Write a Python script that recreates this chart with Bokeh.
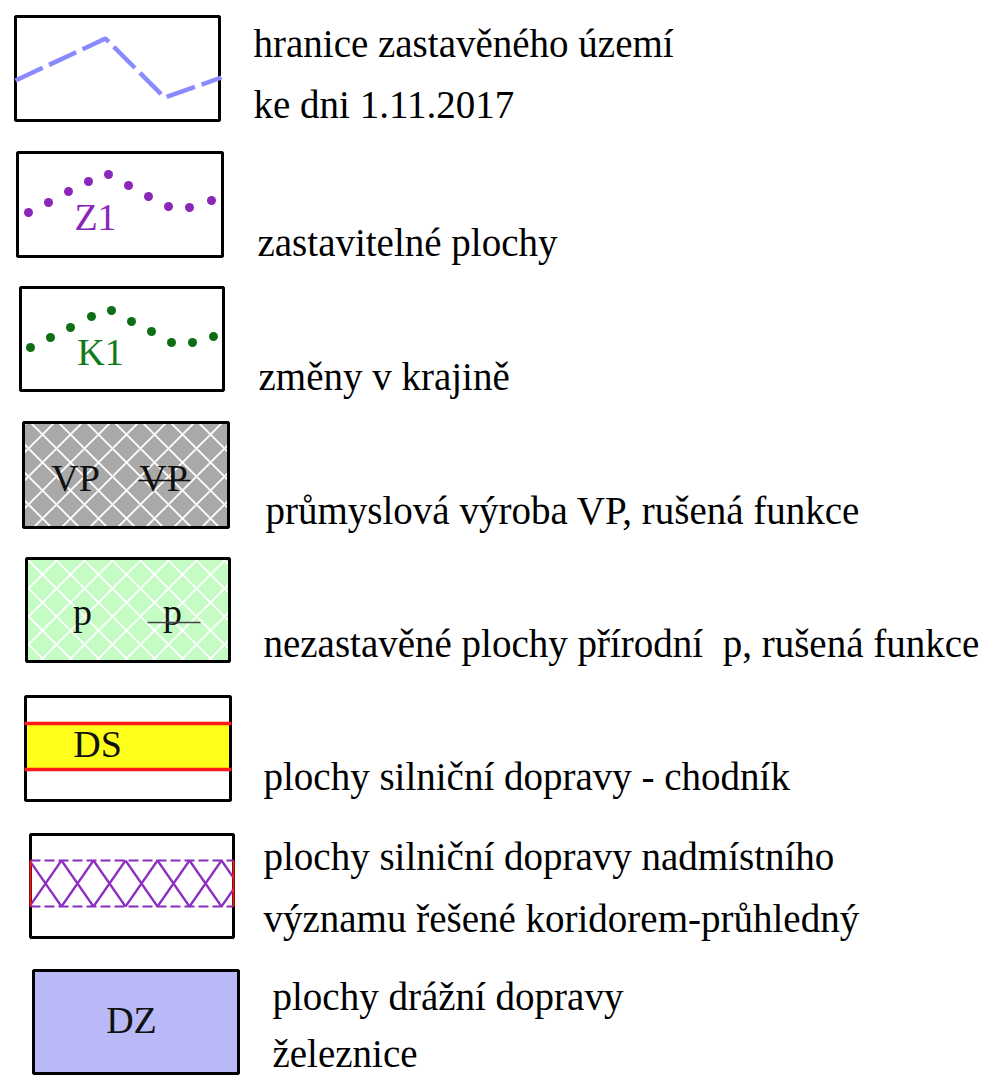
from bokeh.plotting import figure
from bokeh.models import Range1d, ColumnDataSource
from bokeh.embed import file_html
from bokeh.resources import INLINE
from bokeh.core.properties import value

# ---------------- data (legend content) ----------------
labels = [
    "hranice zastavěného území",
    "ke dni 1.11.2017",
    "zastavitelné plochy",
    "změny v krajině",
    "průmyslová výroba VP, rušená funkce",
    "nezastavěné plochy přírodní\u00a0 p, rušená funkce",
    "plochy silniční dopravy - chodník",
    "plochy silniční dopravy nadmístního",
    "významu řešené koridorem-průhledný",
    "plochy drážní dopravy",
    "železnice",
]
symbol_texts = ["Z1", "K1", "VP", "VP", "p", "p", "DS", "DZ"]
symbol_colors = ["#8a26b8", "#137a1c", "#111111", "#111111", "#111111", "#111111", "#111111", "#111111"]

box_fills = ["white", "white", "white", "#a9a9a9", "#c4fcc4", "white", "white", "#b9b9f7"]

# ---------------- layout (pixel positions, image coords) ----------------
label_x = [253, 253, 257, 258, 265, 263, 263, 263, 263, 272, 272]
label_y = [43, 104, 242, 376, 510, 643, 776, 856, 918, 996, 1053]

box_l = [15, 17, 20, 23, 26, 25, 30, 33]
box_t = [16, 152, 287, 422, 558, 696, 834, 970]
box_r = [219, 222, 223, 228, 229, 230, 233, 238]
box_b = [120, 256, 390, 527, 661, 800, 937, 1073]

sym_x = [95, 100, 75, 163, 82, 172, 97, 131]
sym_y = [216, 351, 477, 477, 611, 611, 743, 1019]

border_x = [15, 105, 164, 221]
border_y = [80, 38, 97, 77]
z_dots_x = [28, 48, 68, 88, 108, 128, 148, 168, 189, 211]
z_dots_y = [212, 202, 191, 181, 174, 185, 196, 206, 207, 200]
k_dots_x = [30, 50, 70, 91, 111, 131, 151, 171, 192, 213]
k_dots_y = [347, 337, 327, 316, 310, 321, 331, 342, 342, 336]

FONT = value("Liberation Serif")

W, H = 982, 1075
p = figure(width=W, height=H, x_range=Range1d(0, W), y_range=Range1d(H, 0),
           output_backend="svg", toolbar_location=None, min_border=0)
p.axis.visible = False
p.grid.visible = False
p.outline_line_color = None
p.background_fill_color = "white"
p.border_fill_color = "white"

# box fills
p.quad(left=box_l, right=box_r, top=box_t, bottom=box_b, fill_color=box_fills, line_color=None)
# white cross-hatching on VP and p swatches
for i in (3, 4):
    p.quad(left=[box_l[i]], right=[box_r[i]], top=[box_t[i]], bottom=[box_b[i]],
           fill_color=None, line_color=None, hatch_pattern="diagonal_cross",
           hatch_color="white", hatch_weight=1.8, hatch_scale=28)
# DS band
ds_top, ds_bot = 723, 769
p.quad(left=[box_l[5]], right=[box_r[5]], top=[ds_top], bottom=[ds_bot], fill_color="#ffff1a", line_color=None)
# box borders
p.quad(left=box_l, right=box_r, top=box_t, bottom=box_b, fill_color=None, line_color="black", line_width=3)
p.multi_line(xs=[[box_l[5] - 1, box_r[5] + 1], [box_l[5] - 1, box_r[5] + 1]], ys=[[ds_top, ds_top], [ds_bot, ds_bot]],
             line_color="#ff1a1a", line_width=3.5)

# box 1: dashed boundary line
p.line(border_x, border_y, line_color="#8a8aff", line_width=4.5, line_dash="30 7")

# dotted boundaries
p.scatter(z_dots_x, z_dots_y, size=9, fill_color="#8a26b8", line_color=None)
p.scatter(k_dots_x, k_dots_y, size=9, fill_color="#0e6e16", line_color=None)

# corridor band with crossing lines
bt, bb = 860, 906
x0, x1 = box_l[6], box_r[6]
period = 32
start = 29
xs, ys = [], []


def clip_seg(ax, ay, bx, by):
    if bx < x0 or ax > x1:
        return None
    if ax < x0:
        t = (x0 - ax) / (bx - ax)
        ay = ay + t * (by - ay)
        ax = x0
    if bx > x1:
        t = (x1 - ax) / (bx - ax)
        by = ay + t * (by - ay)
        bx = x1
    return [ax, bx], [ay, by]


k = 0
while start + k * period < x1:
    a = start + k * period
    b = a + period
    for seg in (clip_seg(a, bt, b, bb), clip_seg(a, bb, b, bt)):
        if seg:
            xs.append(seg[0])
            ys.append(seg[1])
    k += 1
p.multi_line(xs=xs, ys=ys, line_color="#8a2cc0", line_width=2.2)
p.multi_line(xs=[[x0, x1], [x0, x1]], ys=[[bt, bt], [bb, bb]], line_color="#8a2cc0", line_width=2.2, line_dash="10 4")
p.multi_line(xs=[[x0, x0], [x1, x1]], ys=[[bt, bb], [bt, bb]], line_color="#ff1a1a", line_width=2)

# symbol texts
src = ColumnDataSource(dict(x=sym_x, y=sym_y, t=symbol_texts, c=symbol_colors))
p.text(x="x", y="y", text="t", text_color="c", source=src, text_font=FONT, text_font_size="38px",
       text_align="center", text_baseline="alphabetic")
# strike-throughs ("rušená funkce")
p.multi_line(xs=[[138, 190], [147, 200]], ys=[[480, 480], [622, 622]], line_color=["#111111", "#444444"], line_width=1.5)

# labels
lsrc = ColumnDataSource(dict(x=label_x, y=label_y, t=labels))
p.text(x="x", y="y", text="t", source=lsrc, text_font=FONT, text_font_size="39px",
       text_color="black", text_align="left", text_baseline="alphabetic")

open("out.html", "w").write(file_html(p, INLINE))
